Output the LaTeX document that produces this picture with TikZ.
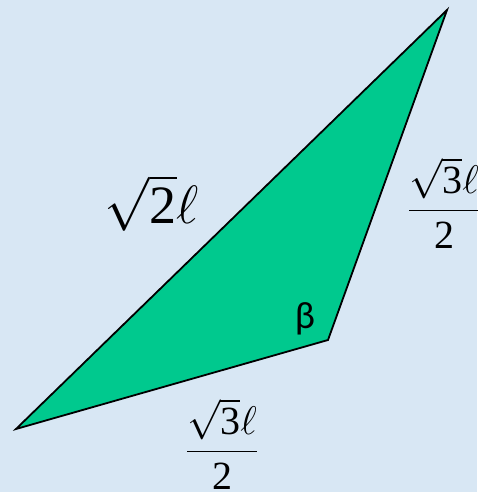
\RequirePackage{fix-cm}
\documentclass[tikz,border=0pt]{standalone}
\usepackage{amsmath}
\usepackage{fontspec}
\setmainfont{Carlito}
\newfontfamily\digfont{Liberation Serif}
\newcommand{\dg}[1]{\text{\digfont #1}}
\definecolor{bgblue}{HTML}{D8E7F4}
\definecolor{trigreen}{HTML}{00C98E}
\begin{document}
\begin{tikzpicture}[x=1pt,y=-1pt,
  lbl/.style={inner sep=0pt,text=black}]
\fill[bgblue] (0,0) rectangle (477,492);
\useasboundingbox (0,0) rectangle (477,492);
\coordinate (L) at (16,429);
\coordinate (T) at (447,10);
\coordinate (B) at (328,340);
\draw[fill=trigreen,line width=1.8pt,line join=miter] (L) -- (T) -- (B) -- cycle;
\node[lbl,font=\fontsize{54}{64}\selectfont] (s2) at (152,203) {$\sqrt{\dg{2}}\ell$};
\node[lbl,font=\fontsize{40}{46}\selectfont] (fr) at (444,203) {$\dfrac{\sqrt{\dg{3}}\ell}{\dg{2}}$};
\node[lbl,font=\fontsize{40}{46}\selectfont] (fb) at (222,444) {$\dfrac{\sqrt{\dg{3}}\ell}{\dg{2}}$};
\node[lbl,font=\fontsize{38}{44}\selectfont] (beta) at (305,319) {β};
\end{tikzpicture}
\end{document}
